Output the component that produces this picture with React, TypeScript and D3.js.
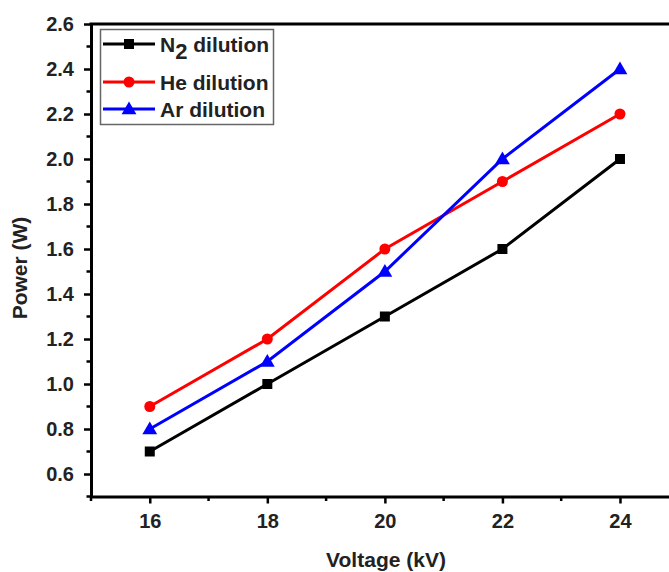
import React, { useEffect, useRef } from 'react';
import * as d3 from 'd3';

const voltage = [16, 18, 20, 22, 24];
const n2Power = [0.7, 1.0, 1.3, 1.6, 2.0];
const hePower = [0.9, 1.2, 1.6, 1.9, 2.2];
const arPower = [0.8, 1.1, 1.5, 2.0, 2.4];
const xTicks = [16, 18, 20, 22, 24];
const yTicks = [0.6, 0.8, 1.0, 1.2, 1.4, 1.6, 1.8, 2.0, 2.2, 2.4, 2.6];

const series = [
  { name: 'N', sub: '2', rest: ' dilution', values: n2Power, color: '#000000', marker: 'square' },
  { name: 'He dilution', values: hePower, color: '#ff0000', marker: 'circle' },
  { name: 'Ar dilution', values: arPower, color: '#0000ff', marker: 'triangle' },
];

const W = 669;
const H = 572;
const FONT = 'Arial, "Liberation Sans", sans-serif';

const App = () => {
  const svgRef = useRef<SVGSVGElement>(null);

  useEffect(() => {
    const svg = d3.select(svgRef.current);
    svg.selectAll('*').remove();

    const x = d3.scaleLinear([15, 25], [91, 678.75]);
    const y = d3.scaleLinear([0.5, 2.6], [496.5, 24]);

    // x axis
    const minorX = d3.range(15, 26, 1).filter((v) => !xTicks.includes(v));
    const gx = svg.append('g').attr('transform', `translate(0,${y(0.5)})`);
    gx.call(d3.axisBottom(x).tickValues(xTicks).tickFormat(d3.format('d')).tickSize(7).tickSizeOuter(0));
    gx.append('g')
      .selectAll('line')
      .data(minorX)
      .join('line')
      .attr('x1', (d) => x(d))
      .attr('x2', (d) => x(d))
      .attr('y1', 0)
      .attr('y2', 4.5)
      .attr('stroke', '#000')
      .attr('stroke-width', 2.5);

    // y axis
    const minorY = d3.range(5, 27, 1).map((v) => v / 10).filter((v) => !yTicks.some((t) => Math.abs(t - v) < 1e-6));
    const gy = svg.append('g').attr('transform', `translate(${x(15)},0)`);
    gy.call(d3.axisLeft(y).tickValues(yTicks).tickFormat(d3.format('.1f')).tickSize(7).tickSizeOuter(0));
    gy.append('g')
      .selectAll('line')
      .data(minorY)
      .join('line')
      .attr('x1', 0)
      .attr('x2', -4.5)
      .attr('y1', (d) => y(d))
      .attr('y2', (d) => y(d))
      .attr('stroke', '#000')
      .attr('stroke-width', 2.5);

    [gx, gy].forEach((g) => {
      g.select('.domain').attr('stroke', '#000').attr('stroke-width', 3);
      g.selectAll('.tick line').attr('stroke', '#000').attr('stroke-width', 2.5);
      g.selectAll('.tick text')
        .attr('font-family', FONT)
        .attr('font-weight', 'bold')
        .attr('font-size', 20)
        .attr('fill', '#222');
    });
    gx.selectAll('.tick text').attr('y', 31.5).attr('dy', 0);
    gy.selectAll('.tick text').attr('x', -17).attr('dy', '0.33em');

    // top frame line
    svg.append('line')
      .attr('x1', x(15) - 1.5)
      .attr('x2', W)
      .attr('y1', y(2.6))
      .attr('y2', y(2.6))
      .attr('stroke', '#000')
      .attr('stroke-width', 3);

    const line = d3.line<number>((d, i) => x(voltage[i]), (d) => y(d));

    const drawMarker = (g: any, kind: string, cx: number, cy: number, color: string) => {
      if (kind === 'square') {
        g.append('rect').attr('x', cx - 5).attr('y', cy - 5).attr('width', 10).attr('height', 10).attr('fill', color);
      } else if (kind === 'circle') {
        g.append('circle').attr('cx', cx).attr('cy', cy).attr('r', 5.5).attr('fill', color);
      } else {
        g.append('path')
          .attr('d', d3.symbol(d3.symbolTriangle, 95)())
          .attr('transform', `translate(${cx},${cy + 1})`)
          .attr('fill', color);
      }
    };

    series.forEach((s) => {
      const g = svg.append('g');
      g.append('path')
        .attr('d', line(s.values))
        .attr('fill', 'none')
        .attr('stroke', s.color)
        .attr('stroke-width', 3);
      s.values.forEach((v, i) => drawMarker(g, s.marker, x(voltage[i]), y(v), s.color));
    });

    // legend
    const lg = svg.append('g');
    lg.append('rect')
      .attr('x', 100.5)
      .attr('y', 29.5)
      .attr('width', 173)
      .attr('height', 95)
      .attr('fill', 'white')
      .attr('stroke', '#666')
      .attr('stroke-width', 1.5);
    const rowY = [44, 82, 109];
    series.forEach((s, i) => {
      const cy = rowY[i];
      lg.append('line')
        .attr('x1', 103)
        .attr('x2', 155)
        .attr('y1', cy)
        .attr('y2', cy)
        .attr('stroke', s.color)
        .attr('stroke-width', 3);
      drawMarker(lg, s.marker, 129, cy, s.color);
      const t = lg.append('text')
        .attr('x', 160)
        .attr('y', cy + 7.5)
        .attr('font-family', FONT)
        .attr('font-weight', 'bold')
        .attr('font-size', 21)
        .attr('fill', '#222');
      if (s.sub) {
        t.append('tspan').text(s.name);
        t.append('tspan').attr('dy', 7).attr('font-size', 22).text(s.sub);
        t.append('tspan').attr('dy', -7).text(s.rest);
      } else {
        t.text(s.name);
      }
    });

    // axis titles
    svg.append('text')
      .attr('x', 386)
      .attr('y', 567)
      .attr('text-anchor', 'middle')
      .attr('font-family', FONT)
      .attr('font-weight', 'bold')
      .attr('font-size', 21)
      .attr('fill', '#222')
      .text('Voltage (kV)');
    svg.append('text')
      .attr('transform', `translate(27,268) rotate(-90)`)
      .attr('text-anchor', 'middle')
      .attr('font-family', FONT)
      .attr('font-weight', 'bold')
      .attr('font-size', 21)
      .attr('fill', '#222')
      .text('Power (W)');
  }, []);

  return (
    <svg
      ref={svgRef}
      width={W}
      height={H}
      style={{ position: 'absolute', left: 0, top: 0, background: 'white' }}
    />
  );
};

export default App;
